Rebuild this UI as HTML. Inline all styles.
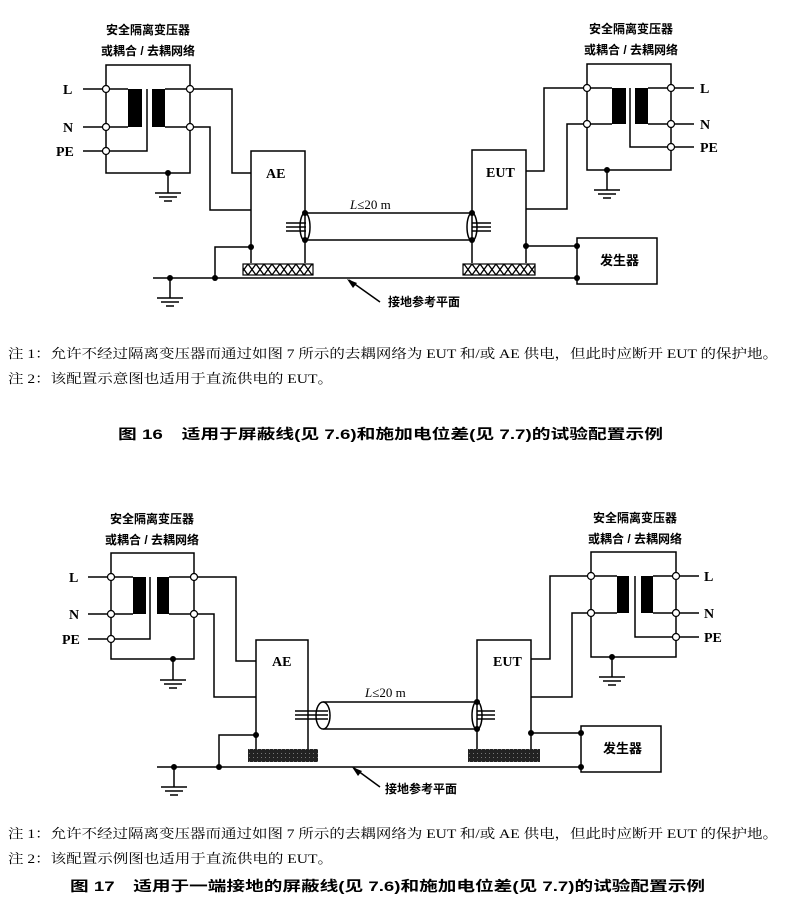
<!DOCTYPE html>
<html><head><meta charset="utf-8"><style>
html,body{margin:0;padding:0;background:#fff;}
svg{display:block;}
text{font-family:"Liberation Serif","Noto Serif CJK SC","Noto Sans CJK SC",serif;fill:#000;}
.b{font-family:"Liberation Sans","Noto Sans CJK SC",sans-serif;font-weight:bold;}
</style></head><body>
<svg width="801" height="900" viewBox="0 0 801 900" xmlns="http://www.w3.org/2000/svg">
<defs>
<pattern id="xh" width="8" height="11" patternUnits="userSpaceOnUse">
<rect width="8" height="11" fill="#fff"/>
<path d="M0 0L8 11M8 0L0 11" stroke="#000" stroke-width="1.3"/>
</pattern>
<pattern id="dk" width="4" height="4" patternUnits="userSpaceOnUse">
<rect width="4" height="4" fill="#222"/>
<rect x="1" y="1" width="1" height="1" fill="#777"/>
</pattern>
</defs>
<g stroke="#000" stroke-width="1.5" fill="none">
<path d="M106 65H190V173H106Z"/>
<path d="M83 89H106M83 127H106M83 151H106"/>
<path d="M106 89H128M106 127H128"/>
<path d="M147 89V151H106"/>
<path d="M190 89H165M190 127H165"/>
<path d="M190 89H232V173H251M190 127H210V210H251"/>
<path d="M168 173V193M155 193H181M159 197H177M164 201H172"/>
<path d="M251 263V151H305V263"/>
<path d="M251 247H215V278"/>
<path d="M153 278H577"/>
<path d="M170 278V298M157 298H183M161 302H179M166 306H174"/>
<path d="M305 213H472M305 240H472"/>
<path d="M286 223H306M286 227H306M286 231H306"/>
<path d="M472 223H491M472 227H491M472 231H491"/>
<ellipse cx="305" cy="227" rx="5" ry="14"/>
<ellipse cx="472" cy="227" rx="5" ry="14"/>
<path d="M472 263V150H526V263"/>
<path d="M526 171H544V88H587M526 209H567V124H587"/>
<path d="M526 246H577"/>
<path d="M577 238H657V284H577Z"/>
<path d="M587 64H671V170H587Z"/>
<path d="M671 88H694M671 124H694M671 147H694"/>
<path d="M587 88H612M587 124H612M671 88H648M671 124H648"/>
<path d="M630 88V147H671"/>
<path d="M607 170V190M594 190H620M598 194H616M603 198H611"/>
<path d="M349 280L380 302"/>

<path d="M111 553H194V659H111Z"/>
<path d="M88 577H111M88 614H111M88 639H111"/>
<path d="M111 577H133M111 614H133"/>
<path d="M150 577V639H111"/>
<path d="M194 577H169M194 614H169"/>
<path d="M194 577H236V661H256M194 614H214V697H256"/>
<path d="M173 659V680M160 680H186M164 684H182M169 688H177"/>
<path d="M256 749V640H308V749"/>
<path d="M256 735H219V767"/>
<path d="M157 767H581"/>
<path d="M174 767V787M161 787H187M165 791H183M170 795H178"/>
<path d="M323 702H477M323 729H477"/>
<ellipse cx="323" cy="715.5" rx="7" ry="13.5" fill="#fff"/>
<path d="M295 711H328M295 715H328M295 719H328"/>
<ellipse cx="477" cy="715.5" rx="5" ry="14"/>
<path d="M477 711H495M477 715H495M477 719H495"/>
<path d="M477 749V640H531V749"/>
<path d="M531 659H550V576H591M531 697H572V613H591"/>
<path d="M531 733H581"/>
<path d="M581 726H661V772H581Z"/>
<path d="M591 552H676V657H591Z"/>
<path d="M676 576H699M676 613H699M676 637H699"/>
<path d="M591 576H617M591 613H617M676 576H653M676 613H653"/>
<path d="M635 576V637H676"/>
<path d="M612 657V677M599 677H625M603 681H621M608 685H616"/>
<path d="M354 768L380 787"/>
</g>
<g fill="#000">
<rect x="128" y="89" width="14" height="38"/><rect x="152" y="89" width="13" height="38"/>
<rect x="612" y="88" width="14" height="36"/><rect x="635" y="88" width="13" height="36"/>
<rect x="133" y="577" width="13" height="37"/><rect x="157" y="577" width="12" height="37"/>
<rect x="617" y="576" width="12" height="37"/><rect x="641" y="576" width="12" height="37"/>
<circle cx="168" cy="173" r="3"/><circle cx="251" cy="247" r="3"/><circle cx="215" cy="278" r="3"/><circle cx="170" cy="278" r="3"/>
<circle cx="305" cy="213" r="3"/><circle cx="305" cy="240" r="3"/><circle cx="472" cy="213" r="3"/><circle cx="472" cy="240" r="3"/>
<circle cx="526" cy="246" r="3"/><circle cx="577" cy="246" r="3"/><circle cx="577" cy="278" r="3"/><circle cx="607" cy="170" r="3"/>
<circle cx="173" cy="659" r="3"/><circle cx="256" cy="735" r="3"/><circle cx="219" cy="767" r="3"/><circle cx="174" cy="767" r="3"/>
<circle cx="477" cy="702" r="3"/><circle cx="477" cy="729" r="3"/>
<circle cx="531" cy="733" r="3"/><circle cx="581" cy="733" r="3"/><circle cx="581" cy="767" r="3"/><circle cx="612" cy="657" r="3"/>
<path d="M347 279L357 283L353 288Z"/>
<path d="M352 767L362 771L358 776Z"/>
</g>
<g fill="#fff" stroke="#000" stroke-width="1.2">
<circle cx="106" cy="89" r="3.5"/><circle cx="106" cy="127" r="3.5"/><circle cx="106" cy="151" r="3.5"/>
<circle cx="190" cy="89" r="3.5"/><circle cx="190" cy="127" r="3.5"/>
<circle cx="587" cy="88" r="3.5"/><circle cx="587" cy="124" r="3.5"/>
<circle cx="671" cy="88" r="3.5"/><circle cx="671" cy="124" r="3.5"/><circle cx="671" cy="147" r="3.5"/>
<circle cx="111" cy="577" r="3.5"/><circle cx="111" cy="614" r="3.5"/><circle cx="111" cy="639" r="3.5"/>
<circle cx="194" cy="577" r="3.5"/><circle cx="194" cy="614" r="3.5"/>
<circle cx="591" cy="576" r="3.5"/><circle cx="591" cy="613" r="3.5"/>
<circle cx="676" cy="576" r="3.5"/><circle cx="676" cy="613" r="3.5"/><circle cx="676" cy="637" r="3.5"/>
</g>
<rect x="243" y="264" width="70" height="11" fill="url(#xh)" stroke="#000" stroke-width="1.2"/>
<rect x="463" y="264" width="72" height="11" fill="url(#xh)" stroke="#000" stroke-width="1.2"/>
<rect x="248" y="749" width="70" height="13" fill="url(#dk)"/>
<rect x="468" y="749" width="72" height="13" fill="url(#dk)"/>

<g font-size="12">
<text class="b" x="148" y="34" text-anchor="middle">安全隔离变压器</text>
<text class="b" x="148" y="55" text-anchor="middle">或耦合 / 去耦网络</text>
<text class="b" x="631" y="33" text-anchor="middle">安全隔离变压器</text>
<text class="b" x="631" y="54" text-anchor="middle">或耦合 / 去耦网络</text>
<g font-size="14" font-weight="bold">
<text x="63" y="94">L</text><text x="63" y="132">N</text><text x="56" y="156">PE</text>
<text x="700" y="93">L</text><text x="700" y="129">N</text><text x="700" y="152">PE</text>
<text x="266" y="178">AE</text><text x="486" y="177">EUT</text>
<text x="69" y="582">L</text><text x="69" y="619">N</text><text x="62" y="644">PE</text>
<text x="704" y="581">L</text><text x="704" y="618">N</text><text x="704" y="642">PE</text>
<text x="272" y="666">AE</text><text x="493" y="666">EUT</text>
</g>
<text x="350" y="209" font-size="13"><tspan font-style="italic">L</tspan>≤20 m</text>
<text class="b" x="600" y="265" font-size="13">发生器</text>
<text class="b" x="388" y="306">接地参考平面</text>

<text class="b" x="152" y="523" text-anchor="middle">安全隔离变压器</text>
<text class="b" x="152" y="544" text-anchor="middle">或耦合 / 去耦网络</text>
<text class="b" x="635" y="522" text-anchor="middle">安全隔离变压器</text>
<text class="b" x="635" y="543" text-anchor="middle">或耦合 / 去耦网络</text>
<text x="365" y="697" font-size="13"><tspan font-style="italic">L</tspan>≤20 m</text>
<text class="b" x="603" y="753" font-size="13">发生器</text>
<text class="b" x="385" y="793">接地参考平面</text>
</g>
<g font-size="13">
<text x="8" y="358" textLength="770" lengthAdjust="spacingAndGlyphs">注 1：允许不经过隔离变压器而通过如图 7 所示的去耦网络为 EUT 和/或 AE 供电，但此时应断开 EUT 的保护地。</text>
<text x="8" y="383" textLength="325" lengthAdjust="spacingAndGlyphs">注 2：该配置示意图也适用于直流供电的 EUT。</text>
<text class="b" x="118" y="439" font-size="14" textLength="545" lengthAdjust="spacingAndGlyphs">图 16　适用于屏蔽线(见 7.6)和施加电位差(见 7.7)的试验配置示例</text>
<text x="8" y="838" textLength="770" lengthAdjust="spacingAndGlyphs">注 1：允许不经过隔离变压器而通过如图 7 所示的去耦网络为 EUT 和/或 AE 供电，但此时应断开 EUT 的保护地。</text>
<text x="8" y="863" textLength="325" lengthAdjust="spacingAndGlyphs">注 2：该配置示例图也适用于直流供电的 EUT。</text>
<text class="b" x="70" y="891" font-size="14" textLength="635" lengthAdjust="spacingAndGlyphs">图 17　适用于一端接地的屏蔽线(见 7.6)和施加电位差(见 7.7)的试验配置示例</text>
</g>
</svg>
</body></html>
